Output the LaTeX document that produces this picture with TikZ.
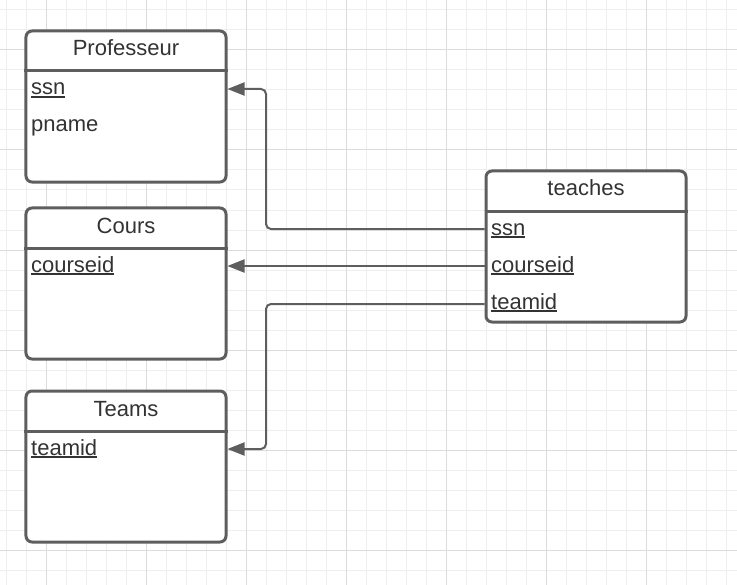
\documentclass[tikz,border=0pt]{standalone}
\usepackage{fontspec}
\setmainfont{Liberation Sans}
\usetikzlibrary{arrows.meta}
\definecolor{ink}{HTML}{333333}
\definecolor{edgec}{HTML}{5E5E5E}
\definecolor{gridminor}{HTML}{EEEEEE}
\definecolor{gridmajor}{HTML}{DCDCDC}
\newcommand\keyfield[1]{\setbox0\hbox{#1}\rlap{\rule[-2.6bp]{\wd0}{1.6bp}}\box0}
\begin{document}
\begin{tikzpicture}[x=1bp,y=-1bp,
  tablebox/.style={draw=edgec, line width=3bp, rounded corners=6bp, minimum width=200bp, minimum height=151bp, inner sep=0pt, fill=white},
  divider/.style={draw=edgec, line width=3bp},
  titletext/.style={anchor=base, text=ink, font=\fontsize{22bp}{26bp}\selectfont, inner sep=0pt},
  fieldtext/.style={anchor=base west, text=ink, font=\fontsize{22bp}{26bp}\selectfont, inner sep=0pt},
  conn/.style={draw=edgec, line width=2bp, rounded corners=5bp, -{Triangle[length=17bp,width=13bp]}}]
\useasboundingbox (0,0) rectangle (737,585);
\fill[white] (0,0) rectangle (737,585);
\foreach \x in {6.5,26.5,...,736.5} \draw[gridminor, line width=1bp] (\x,0) -- (\x,585);
\foreach \y in {10,30,...,580} \draw[gridminor, line width=1bp] (0,\y) -- (737,\y);
\foreach \x in {46.5,146.5,...,736.5} \draw[gridmajor, line width=1bp] (\x,0) -- (\x,585);
\foreach \y in {50,150,...,580} \draw[gridmajor, line width=1bp] (0,\y) -- (737,\y);

% Professeur
\node[tablebox] (prof) at (126,106.5) {};
\draw[divider] (prof.north west |- 0,71) -- (prof.north east |- 0,71);
\node[titletext] (proft) at (126,56) {Professeur};
\node[fieldtext] (pssn) at (31,95) {\keyfield{ssn}};
\node[fieldtext] (pname) at (31,132) {pname};

% Cours
\node[tablebox] (cours) at (126,283.5) {};
\draw[divider] (cours.north west |- 0,248) -- (cours.north east |- 0,248);
\node[titletext] (courst) at (126,233) {Cours};
\node[fieldtext] (ccid) at (31,272) {\keyfield{courseid}};

% Teams
\node[tablebox] (teams) at (126,466.5) {};
\draw[divider] (teams.north west |- 0,431) -- (teams.north east |- 0,431);
\node[titletext] (teamst) at (126,416) {Teams};
\node[fieldtext] (tmid) at (31,455) {\keyfield{teamid}};

% teaches
\node[tablebox] (teaches) at (586,246.5) {};
\draw[divider] (teaches.north west |- 0,211) -- (teaches.north east |- 0,211);
\node[titletext] (teachest) at (586,196) {teaches};
\node[fieldtext] (tssn) at (491,235) {\keyfield{ssn}};
\node[fieldtext] (tcid) at (491,272) {\keyfield{courseid}};
\node[fieldtext] (ttid) at (491,309) {\keyfield{teamid}};

\coordinate (elbow) at (266,0);
\coordinate (r1) at ([yshift=6bp]tssn.base);
\coordinate (r2) at ([yshift=6bp]tcid.base);
\coordinate (r3) at ([yshift=5bp]ttid.base);
\coordinate (p1) at ([yshift=6bp]pssn.base);
\coordinate (c1) at ([yshift=6bp]ccid.base);
\coordinate (m1) at ([yshift=6bp]tmid.base);

% connectors
\draw[conn] (teaches.west |- r1) -| (elbow |- p1) -- (prof.east |- p1);
\draw[conn] (teaches.west |- r2) -- (cours.east |- c1);
\draw[conn] (teaches.west |- r3) -| (elbow |- m1) -- (teams.east |- m1);
\end{tikzpicture}
\end{document}
